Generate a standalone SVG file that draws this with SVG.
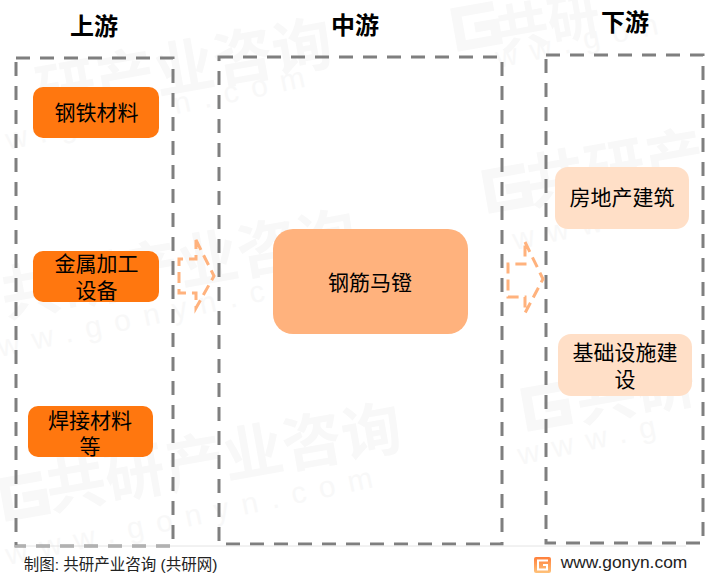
<svg xmlns="http://www.w3.org/2000/svg" width="711" height="579" viewBox="0 0 711 579">
<style>
text{font-family:"Liberation Sans","Noto Sans CJK SC",sans-serif;text-anchor:middle;fill:#000}
.h{font-size:24px;font-weight:700}
.n{font-size:21px}
.f{font-size:15.5px;fill:#222}
.wm text{fill:#f8f8f8;text-anchor:start}
.wa{font-size:60px;font-weight:700}
.wb{font-size:30px;letter-spacing:13px}
.frame{fill:none;stroke:#7f7f7f;stroke-width:3;stroke-dasharray:14 10}
.arrow{fill:none;stroke:#ffb27d;stroke-width:3;stroke-dasharray:11 6}
</style>
<defs>
<path id="g" d="M46 6H8V40H44V24H24" fill="none" stroke="#f8f8f8" stroke-width="10"/>
<linearGradient id="lg" x1="0" y1="0" x2="0" y2="1"><stop offset="0" stop-color="#ff7f3a"/><stop offset="1" stop-color="#ffc27a"/></linearGradient>
</defs>
<rect width="711" height="579" fill="#fff"/>
<g class="wm">
<text class="wa" transform="translate(40,115) rotate(-10)">研产业咨询</text>
<text class="wb" transform="translate(8,150) rotate(-12)">w.gonyn.com</text>
<text class="wa" transform="translate(5,317) rotate(-10)">共研产业咨询</text>
<text class="wb" transform="translate(0,357) rotate(-12)">ww.gonyn.com</text>
<text class="wa" transform="translate(50,510) rotate(-10)">共研产业咨询</text>
<text class="wb" transform="translate(8,565) rotate(-12)">www.gonyn.com</text>
<use href="#g" transform="translate(447,8) rotate(-10)"/>
<text class="wa" style="font-size:52px" transform="translate(500,50) rotate(-10)">共研</text>
<text class="wb" transform="translate(498,68) rotate(-12)">ww.gon</text>
<use href="#g" transform="translate(478,170) rotate(-10)"/>
<text class="wa" transform="translate(530,205) rotate(-10)">共研产</text>
<text class="wb" transform="translate(515,250) rotate(-12)">www.go</text>
<use href="#g" transform="translate(517,388) rotate(-10)"/>
<text class="wa" transform="translate(580,422) rotate(-10)">共研</text>
<text class="wb" transform="translate(520,465) rotate(-12)">www.g</text>
<use href="#g" transform="translate(-5,478) rotate(-10)"/>
</g>
<g id="upstream"><rect class="frame" x="16" y="58" width="157" height="488"/><text class="h" x="94" y="35">上游</text></g>
<g id="midstream"><rect class="frame" x="219" y="57" width="283" height="487"/><text class="h" x="355" y="34">中游</text></g>
<g id="downstream"><rect class="frame" x="546" y="55" width="157" height="488"/><text class="h" x="625" y="31">下游</text></g>
<g id="n1"><rect x="33" y="87" width="126" height="51" rx="10" fill="#ff770f"/><text class="n" x="96.500" y="120">钢铁材料</text></g>
<g id="n2"><rect x="33" y="251" width="126" height="51" rx="10" fill="#ff770f"/><text class="n" x="96.500" y="271">金属加工</text><text class="n" x="96.500" y="298">设备</text></g>
<g id="n3"><rect x="28" y="406" width="125" height="51" rx="10" fill="#ff770f"/><text class="n" x="90" y="428">焊接材料</text><text class="n" x="90" y="454">等</text></g>
<g id="n4"><rect x="273" y="229" width="195" height="105" rx="20" fill="#ffb27d"/><text class="n" x="370" y="290">钢筋马镫</text></g>
<g id="n5"><rect x="555" y="167" width="134" height="62" rx="13" fill="#ffdfc7"/><text class="n" x="622" y="205">房地产建筑</text></g>
<g id="n6"><rect x="558" y="334" width="134" height="62" rx="13" fill="#ffdfc7"/><text class="n" x="625" y="360">基础设施建</text><text class="n" x="625" y="387">设</text></g>
<g id="connectors">
<path class="arrow" d="M196 240L214 276L196 308V293H179V259H196Z"/>
<path class="arrow" d="M525 242L543 279L525 313V297H508V264H525Z"/>
</g>
<g id="footer">
<line x1="15" y1="546" x2="686" y2="546" stroke="#e4e4e4" stroke-width="1"/>
<text class="f" x="120.500" y="570">制图: 共研产业咨询 (共研网)</text>
<rect x="534" y="557" width="17" height="16" rx="2" fill="url(#lg)"/>
<path d="M548 560.500H538V569.500H547V565H543" fill="none" stroke="#fff" stroke-width="2"/>
<text class="f" x="624" y="568" style="font-size:17.4px">www.gonyn.com</text>
</g>
</svg>
